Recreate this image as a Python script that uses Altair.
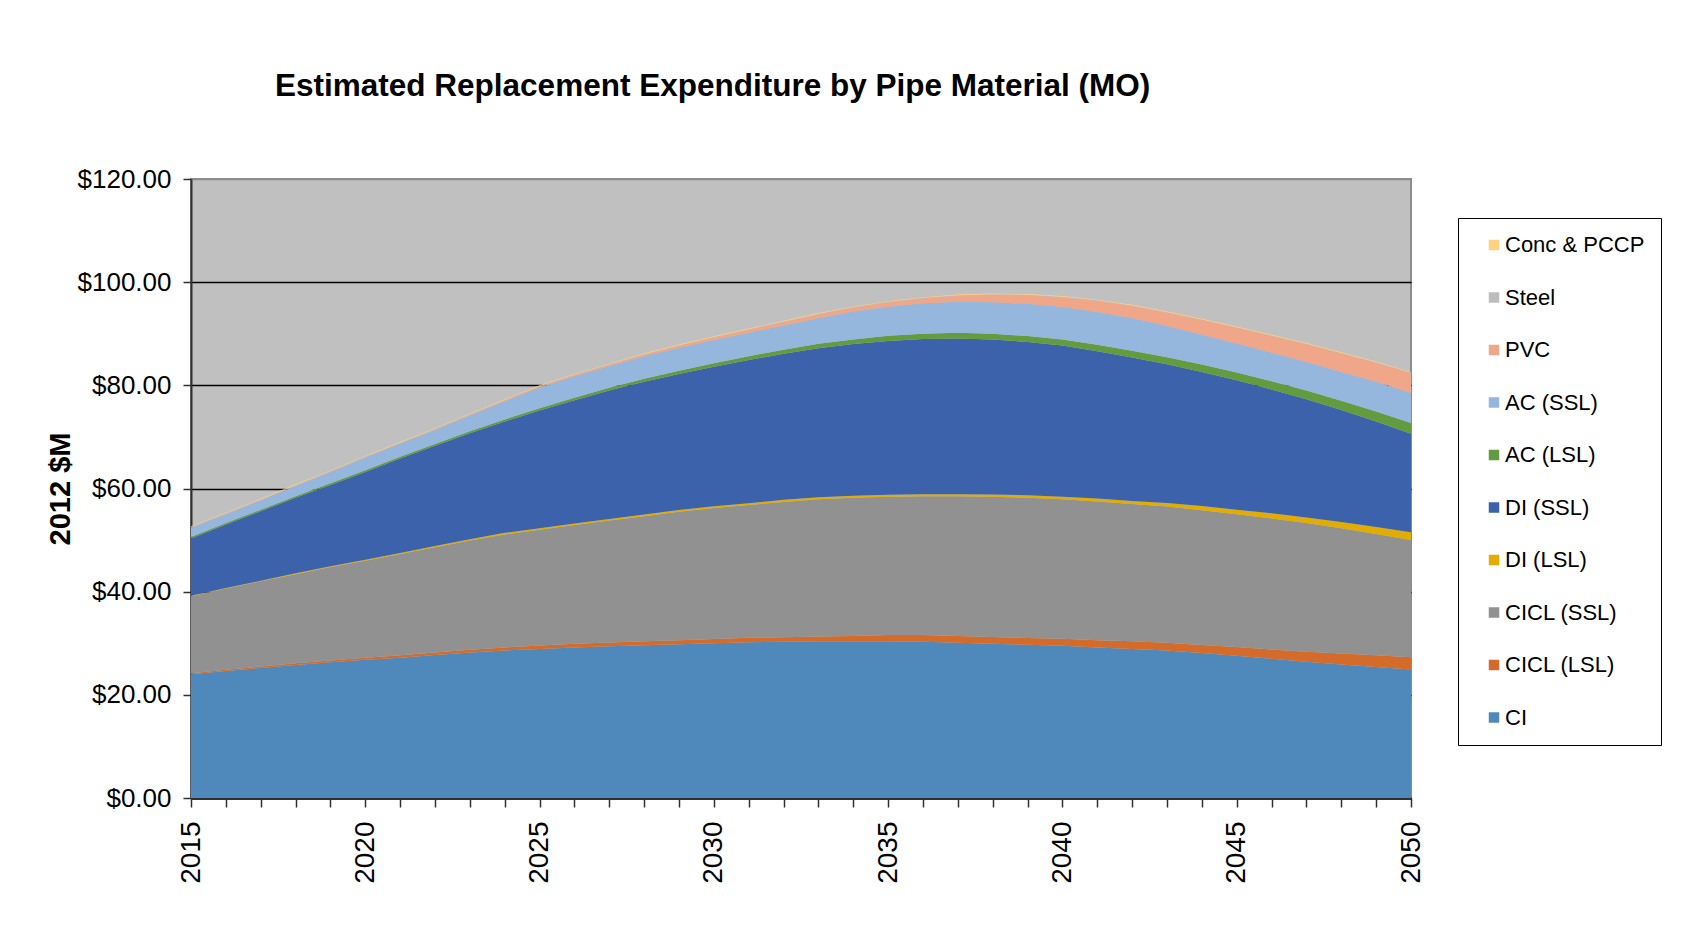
import altair as alt
import pandas as pd

years = list(range(2015, 2051))

ci = [24.0, 24.6, 25.2, 25.8, 26.3, 26.8, 27.2, 27.7, 28.2, 28.6, 28.9, 29.2, 29.4, 29.6, 29.8, 30.0, 30.2, 30.3,
      30.4, 30.4, 30.4, 30.3, 30.1, 29.9, 29.7, 29.5, 29.2, 28.9, 28.6, 28.1, 27.6, 27.0, 26.4, 25.9, 25.4, 24.9]
cicl_lsl = [0.2, 0.25, 0.3, 0.3, 0.35, 0.4, 0.45, 0.5, 0.55, 0.6, 0.65, 0.7, 0.75, 0.8, 0.8, 0.8, 0.85, 0.85,
            0.9, 1.0, 1.2, 1.3, 1.3, 1.3, 1.3, 1.35, 1.4, 1.5, 1.5, 1.55, 1.65, 1.8, 1.95, 2.1, 2.25, 2.4]
cicl_ssl = [14.9, 15.75, 16.5, 17.3, 18.15, 18.8, 19.65, 20.4, 21.15, 21.9, 22.45, 23.0, 23.65, 24.2, 24.9, 25.4,
            25.75, 26.25, 26.6, 26.8, 26.8, 26.9, 27.1, 27.2, 27.2, 27.05, 26.9, 26.6, 26.4, 26.15, 25.75, 25.4,
            24.95, 24.3, 23.55, 22.7]
di_lsl = [0.1, 0.1, 0.1, 0.15, 0.15, 0.2, 0.2, 0.25, 0.25, 0.3, 0.3, 0.3, 0.3, 0.35, 0.35, 0.35, 0.35, 0.4,
          0.4, 0.4, 0.4, 0.4, 0.4, 0.45, 0.5, 0.5, 0.55, 0.6, 0.7, 0.8, 0.9, 1.0, 1.1, 1.2, 1.35, 1.5]
di_ssl = [11.1, 12.3, 13.5, 14.65, 15.75, 17.0, 18.3, 19.45, 20.55, 21.6, 22.8, 23.9, 24.9, 25.75, 26.35, 27.05,
          27.75, 28.3, 28.9, 29.4, 29.8, 30.1, 30.2, 30.05, 29.7, 29.3, 28.55, 27.8, 26.9, 26.0, 25.1, 24.0,
          22.9, 21.7, 20.45, 19.1]
ac_lsl = [0.3, 0.3, 0.3, 0.3, 0.3, 0.35, 0.35, 0.35, 0.4, 0.4, 0.45, 0.5, 0.55, 0.6, 0.65, 0.7, 0.75, 0.8,
          0.85, 0.9, 1.0, 1.0, 1.1, 1.1, 1.15, 1.2, 1.25, 1.3, 1.35, 1.45, 1.5, 1.6, 1.7, 1.8, 1.95, 2.1]
ac_ssl = [1.8, 1.7, 1.8, 2.0, 2.2, 2.45, 2.55, 2.7, 3.05, 3.5, 4.05, 4.15, 4.15, 4.35, 4.45, 4.5, 4.55, 4.7,
          4.95, 5.4, 5.65, 5.9, 6.0, 6.1, 6.25, 6.3, 6.35, 6.3, 6.05, 5.75, 5.6, 5.5, 5.5, 5.6, 5.75, 5.8]
pvc = [0.1, 0.1, 0.1, 0.1, 0.1, 0.1, 0.1, 0.15, 0.15, 0.2, 0.2, 0.25, 0.3, 0.35, 0.4, 0.5, 0.6, 0.7,
       0.8, 0.8, 0.85, 1.0, 1.2, 1.5, 1.7, 1.9, 2.2, 2.4, 2.6, 2.9, 3.1, 3.3, 3.5, 3.6, 3.7, 3.9]
steel = [0.08, 0.08, 0.08, 0.08, 0.08, 0.08, 0.08, 0.08, 0.08, 0.08, 0.08, 0.08, 0.08, 0.08, 0.08, 0.08, 0.08, 0.08,
         0.08, 0.08, 0.08, 0.08, 0.08, 0.08, 0.08, 0.08, 0.08, 0.08, 0.08, 0.08, 0.08, 0.08, 0.08, 0.08, 0.08, 0.08]
conc = [0.12, 0.12, 0.12, 0.12, 0.12, 0.12, 0.12, 0.12, 0.12, 0.12, 0.12, 0.12, 0.12, 0.12, 0.12, 0.12, 0.12, 0.12,
        0.12, 0.12, 0.12, 0.12, 0.12, 0.12, 0.12, 0.12, 0.12, 0.12, 0.12, 0.12, 0.12, 0.12, 0.12, 0.12, 0.12, 0.12]

series_names = ["CI", "CICL (LSL)", "CICL (SSL)", "DI (LSL)", "DI (SSL)",
                "AC (LSL)", "AC (SSL)", "PVC", "Steel", "Conc & PCCP"]
series_values = [ci, cicl_lsl, cicl_ssl, di_lsl, di_ssl, ac_lsl, ac_ssl, pvc, steel, conc]
series_colors = ["#4F89BC", "#D46B2A", "#919191", "#E2AC00", "#3B62AA",
                 "#629C3E", "#95B7DE", "#EFA689", "#BDBDBD", "#FFD27F"]

y_ticks = [0, 20, 40, 60, 80, 100, 120]

rows = []
for k, (name, vals) in enumerate(zip(series_names, series_values)):
    for yr, v in zip(years, vals):
        rows.append({"Year": yr, "Material": name, "Value": v, "StackOrder": k})
df = pd.DataFrame(rows)

legend_domain = list(reversed(series_names))
legend_range = list(reversed(series_colors))

FONT = "Liberation Sans"

chart = alt.Chart(df).mark_area(interpolate="linear").encode(
    x=alt.X(
        "Year:Q",
        scale=alt.Scale(domain=[2015, 2050], nice=False, zero=False),
        axis=alt.Axis(
            values=years,
            format="d",
            labelExpr="datum.value % 5 == 0 ? datum.label : ''",
            labelAngle=270,
            labelFontSize=28,
            labelFont=FONT,
            labelColor="black",
            labelPadding=14,
            labelOverlap=False,
            tickSize=9,
            tickColor="#303030",
            tickWidth=1.5,
            domainColor="#303030",
            domainWidth=3,
            grid=False,
            title=None,
        ),
    ),
    y=alt.Y(
        "Value:Q",
        stack="zero",
        scale=alt.Scale(domain=[0, 120], nice=False),
        axis=alt.Axis(
            values=y_ticks,
            format="$.2f",
            labelFontSize=26,
            labelFont=FONT,
            labelColor="black",
            labelPadding=12,
            tickSize=8,
            tickColor="#303030",
            tickWidth=1.5,
            domainColor="#303030",
            domainWidth=2,
            grid=True,
            gridColor={"condition": {"test": "datum.value == 120", "value": "#8C8C8C"}, "value": "#000000"},
            gridWidth=1.5,
            title="2012 $M",
            titleFont=FONT,
            titleFontSize=29,
            titleFontWeight="bold",
            titleColor="black",
            titlePadding=2,
        ),
    ),
    color=alt.Color(
        "Material:N",
        scale=alt.Scale(domain=legend_domain, range=legend_range),
        legend=alt.Legend(
            title=None,
            orient="none",
            legendX=1267,
            legendY=39,
            symbolType="square",
            symbolSize=110,
            symbolStrokeWidth=0,
            symbolOffset=9,
            labelFontSize=22,
            labelFont=FONT,
            labelColor="black",
            labelOffset=0,
            padding=16,
            rowPadding=30.5,
            strokeColor="black",
            fillColor="white",
        ),
    ),
    order=alt.Order("StackOrder:Q", sort="ascending"),
).properties(
    width=1220,
    height=619,
    autosize="none",
    padding={"left": 183, "top": 171, "right": 265, "bottom": 115},
    title=alt.Title(
        "Estimated Replacement Expenditure by Pipe Material (MO)",
        font=FONT,
        fontSize=31.5,
        fontWeight="bold",
        color="black",
        anchor="start",
        dx=229,
        offset=64,
    ),
).configure_view(
    fill="#C0C0C0",
    stroke="#8C8C8C",
    strokeWidth=2,
)

chart.save("out.html", embed_options={"renderer": "svg", "actions": False})
